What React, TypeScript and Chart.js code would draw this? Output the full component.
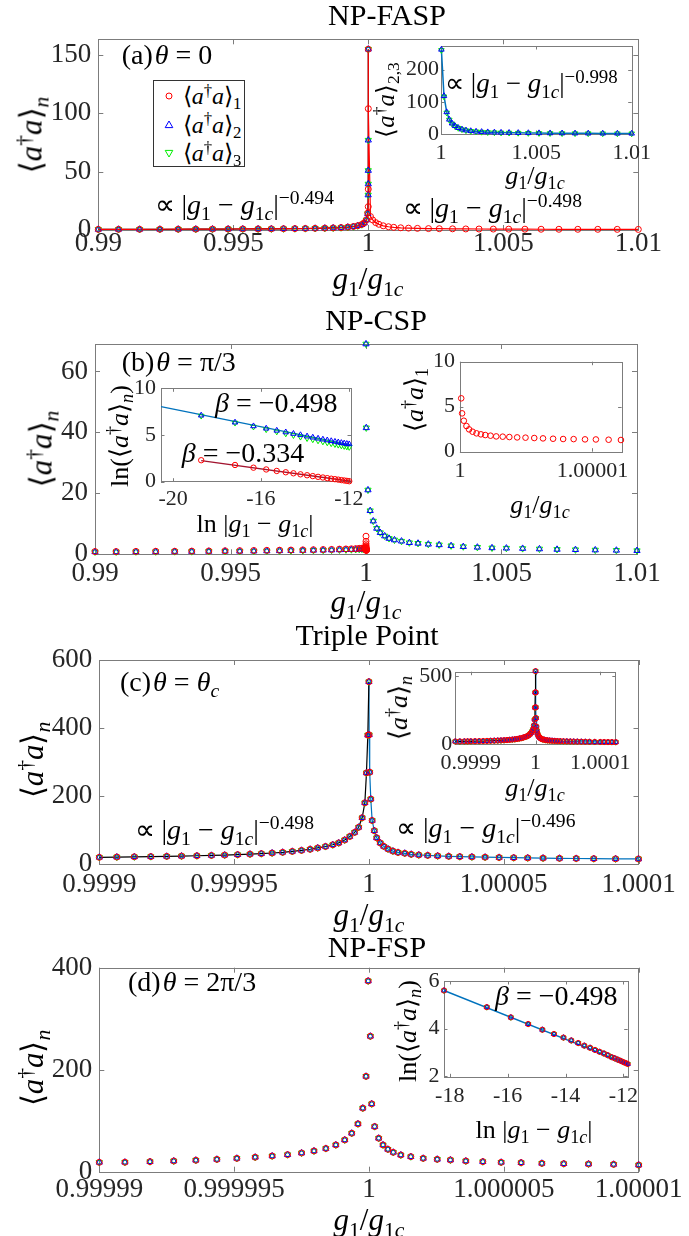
import React, { useEffect, useMemo, useRef } from 'react';
import { Chart, registerables } from 'chart.js';
Chart.register(...registerables);

// ================= DATA =================
// Panel (a) NP-FASP, theta = 0 — x offsets from g1c in units of 1e-3
const aLeftOffsetsE3 = [-10, -9.25, -8.47, -7.72, -7.04, -6.39, -5.77, -5.19, -4.65, -4.08, -3.59, -3.14, -2.72, -2.33, -1.97, -1.61, -1.3, -1.01, -0.76, -0.55, -0.39, -0.24, -0.15, -0.07, -0.02];
const aRedLeft = [0.55, 0.6, 0.6, 0.65, 0.7, 0.75, 0.8, 0.85, 0.9, 0.95, 1.0, 1.1, 1.2, 1.3, 1.45, 1.6, 1.8, 2.1, 2.5, 3.0, 3.7, 4.8, 6.2, 8.8, 14.5];
const aTriLeft = [0.5, 0.55, 0.55, 0.6, 0.65, 0.7, 0.75, 0.8, 0.85, 0.9, 0.95, 1.05, 1.15, 1.25, 1.4, 1.55, 1.75, 2.0, 2.4, 2.9, 3.6, 4.6, 6.0, 8.5, 14.0];
const aRedPeakOffsetsE3 = [-0.002, -0.0002, 0, 0.00002];
const aRedPeak = [20, 35, 155, 104];
const aTriPeakOffsetsE3 = [-0.005, -0.002, -0.001, -0.0003, 0];
const aTriPeak = [30, 39.4, 51, 77, 155];
const aRightOffsetsE3 = [0.081, 0.163, 0.276, 0.39, 0.553, 0.748, 0.943, 1.2, 1.49, 1.82, 2.23, 2.63, 3.12, 3.61, 4.1, 4.63, 5.2, 5.8, 6.4, 7.06, 7.76, 8.5, 9.22, 10];
const aRedRight = [11.5, 8.6, 6.3, 4.9, 3.6, 2.8, 2.3, 1.9, 1.6, 1.4, 1.2, 1.1, 1.0, 0.9, 0.85, 0.8, 0.75, 0.7, 0.65, 0.62, 0.6, 0.58, 0.55, 0.5];
// inset (a): <a†a>_{2,3} for g1 > g1c
const aInOffsetsE3 = [0.02, 0.157, 0.299, 0.435, 0.577, 0.734, 0.907, 1.1, 1.31, 1.56, 1.84, 2.13, 2.45, 2.8, 3.15, 3.57, 4.05, 4.58, 5.14, 5.72, 6.35, 7.03, 7.72, 8.48, 9.25, 10.0];
const aInBlue = [262, 118, 68, 45, 33, 25, 19, 14.5, 11.5, 9.4, 7.8, 6.7, 5.8, 5.1, 4.5, 4.0, 3.6, 3.2, 2.9, 2.6, 2.4, 2.2, 2.0, 1.85, 1.7, 1.6];
const aInGreen = [260, 116, 66, 44, 32, 24, 18.5, 14, 11, 9, 7.4, 6.3, 5.4, 4.7, 4.1, 3.6, 3.2, 2.8, 2.5, 2.2, 2.0, 1.8, 1.65, 1.5, 1.4, 1.3];

// Panel (b) NP-CSP, theta = pi/3 — offsets in 1e-3
const bLeftOffsetsE3 = [-10, -9.22, -8.49, -7.76, -7.06, -6.43, -5.8, -5.2, -4.66, -4.14, -3.66, -3.19, -2.77, -2.33, -1.94, -1.58, -1.27, -0.98, -0.74, -0.54, -0.38, -0.25, -0.15, -0.09, -0.04];
const bRedLeft = [0.9, 0.9, 0.95, 1.0, 1.0, 1.05, 1.1, 1.15, 1.2, 1.25, 1.3, 1.35, 1.4, 1.45, 1.5, 1.55, 1.6, 1.7, 1.75, 1.8, 1.85, 1.95, 2.0, 2.05, 2.1];
const bStarLeft = [0.8, 0.8, 0.85, 0.85, 0.9, 0.9, 0.95, 1.0, 1.0, 1.05, 1.1, 1.15, 1.2, 1.25, 1.3, 1.35, 1.4, 1.45, 1.5, 1.55, 1.6, 1.65, 1.7, 1.75, 1.8];
const bRightOffsetsE3 = [0.00001, 0.01, 0.073, 0.154, 0.268, 0.397, 0.527, 0.69, 0.85, 1.05, 1.31, 1.6, 1.92, 2.3, 2.7, 3.14, 3.59, 4.11, 4.65, 5.18, 5.78, 6.4, 7.05, 7.73, 8.46, 9.24, 10];
const bStarRight = [69, 41.5, 21.1, 14.3, 10.9, 8.5, 7.1, 6.0, 5.2, 4.7, 4.3, 3.8, 3.6, 3.3, 3.1, 2.8, 2.5, 2.3, 2.1, 2.0, 1.9, 1.75, 1.6, 1.5, 1.4, 1.3, 1.2];
// red, g1 > g1c, offsets in 1e-6 (right inset)
const bRedRightOffsetsE6 = [0.099, 0.165, 0.297, 0.495, 0.693, 0.957, 1.254, 1.584, 1.914, 2.31, 2.74, 3.23, 3.73, 4.32, 4.95, 5.61, 6.27, 7.03, 7.79, 8.58, 9.44, 10.26, 11.22, 12.15];
const bRedRight = [5.93, 4.26, 3.44, 2.85, 2.48, 2.22, 2.04, 1.93, 1.85, 1.78, 1.7, 1.67, 1.63, 1.59, 1.56, 1.52, 1.48, 1.44, 1.41, 1.4, 1.37, 1.36, 1.33, 1.3];
// left inset: ln|g1-g1c| vs ln<a†a>
const bLnX = [-18.72, -17.18, -16.34, -15.76, -15.28, -14.87, -14.52, -14.2, -13.9, -13.64, -13.4, -13.18, -12.98, -12.8, -12.63, -12.48, -12.34, -12.21, -12.09, -11.98];
const bLnBlue = [7.1, 6.35, 5.95, 5.7, 5.48, 5.3, 5.14, 5.0, 4.86, 4.74, 4.63, 4.53, 4.44, 4.36, 4.29, 4.22, 4.16, 4.11, 4.06, 4.02];
const bLnGreen = [7.05, 6.3, 5.88, 5.6, 5.36, 5.15, 4.97, 4.8, 4.65, 4.52, 4.4, 4.29, 4.19, 4.1, 4.01, 3.94, 3.87, 3.81, 3.75, 3.7];
const bLnRed = [2.3, 1.79, 1.5, 1.31, 1.15, 1.01, 0.9, 0.79, 0.69, 0.6, 0.52, 0.45, 0.38, 0.32, 0.27, 0.22, 0.17, 0.13, 0.09, 0.05];
const bFitBlueX = [-20.55, -11.9];
const bFitBlueY = [8.05, 3.95];
const bFitRedX = [-18.72, -11.9];
const bFitRedY = [2.25, 0.05];

// Panel (c) Triple point — offsets in 1e-5 (all three series overlap)
const cLeftOffsetsE5 = [-10, -9.35, -8.7, -8.09, -7.5, -6.95, -6.38, -5.84, -5.35, -4.87, -4.41, -3.99, -3.59, -3.2, -2.84, -2.5, -2.18, -1.9, -1.61, -1.34, -1.12, -0.9, -0.71, -0.53, -0.38, -0.25, -0.15, -0.09, -0.04, 0];
const cLeft = [19.7, 20.5, 21.2, 21.8, 22.5, 23.3, 24.2, 25.2, 26.3, 27.5, 29, 30.5, 32.3, 34.4, 37, 40, 43.3, 47.2, 51.5, 56.5, 62, 70.5, 81, 93, 108, 136, 180, 268, 379, 536];
const cRightOffsetsE5 = [0.01, 0.03, 0.07, 0.12, 0.2, 0.29, 0.42, 0.55, 0.71, 0.89, 1.08, 1.33, 1.57, 1.85, 2.18, 2.55, 2.96, 3.37, 3.82, 4.31, 4.83, 5.37, 5.89, 6.46, 7.07, 7.69, 8.34, 9.15, 10.0];
const cRight = [380, 270, 191, 128, 98, 77, 62, 52, 44, 38, 34, 31.5, 28.5, 26.6, 25.3, 23.8, 22.6, 21.6, 20.8, 20, 19.2, 18.5, 17.9, 17.3, 16.7, 16.2, 15.7, 15.2, 14.8];
const cEdgeLeftOffsetsE5 = [-12.4, -11.7, -11.0, -10.5];
const cEdgeLeft = [18.6, 18.9, 19.2, 19.5];
const cEdgeRightOffsetsE5 = [10.6, 11.2, 11.8, 12.4];
const cEdgeRight = [14.5, 14.2, 14.0, 13.7];

// Panel (d) NP-FSP, theta = 2pi/3 — offsets in 1e-6
const dLeftOffsetsE6 = [-10, -9.05, -8.12, -7.24, -6.42, -5.64, -4.9, -4.22, -3.59, -3.02, -2.5, -2.04, -1.6, -1.23, -0.9, -0.64, -0.41, -0.23, -0.11, -0.03];
const dLeft = [18.4, 18.6, 19.7, 21.0, 22.5, 24.2, 26.2, 28.4, 30.8, 33.4, 36.7, 40.7, 45.5, 52.5, 62.3, 75.4, 93.8, 124.6, 187, 374];
const dRightOffsetsE6 = [0.05, 0.1, 0.21, 0.36, 0.52, 0.7, 0.9, 1.18, 1.55, 2.01, 2.53, 3.02, 3.59, 4.22, 4.9, 5.64, 6.41, 7.22, 8.14, 9.07, 10.0];
const dRight = [265.6, 133, 88.5, 65.6, 52.5, 43.9, 38, 32.8, 29.5, 26.2, 24.3, 23, 21, 19.7, 18.4, 17.7, 16.4, 15.7, 15.1, 14.4, 13.1];
const dLnX = [-18.2, -16.72, -15.89, -15.29, -14.8, -14.4, -14.07, -13.8, -13.56, -13.35, -13.15, -12.98, -12.82, -12.67, -12.54, -12.41, -12.3, -12.19, -12.09, -12.0, -11.92, -11.85];
const dLnY = [5.6, 4.9, 4.47, 4.19, 3.95, 3.77, 3.62, 3.5, 3.39, 3.28, 3.19, 3.1, 3.02, 2.95, 2.88, 2.8, 2.75, 2.69, 2.64, 2.59, 2.55, 2.51];
const dFitX = [-18.2, -11.85];
const dFitY = [5.6, 2.5];

// Tick values and labels
const xTicksA = [0.99, 0.995, 1, 1.005, 1.01];
const xLabelsA = ['0.99', '0.995', '1', '1.005', '1.01'];
const yTicksA = [0, 50, 100, 150];
const yLabelsA = ['0', '50', '100', '150'];
const xTicksAIn = [1, 1.005, 1.01];
const xLabelsAIn = ['1', '1.005', '1.01'];
const yTicksAIn = [0, 100, 200];
const yLabelsAIn = ['0', '100', '200'];
const yTicksB = [0, 20, 40, 60];
const yLabelsB = ['0', '20', '40', '60'];
const xTicksBLn = [-20, -16, -12];
const xLabelsBLn = ['-20', '-16', '-12'];
const yTicks010 = [0, 5, 10];
const yLabels010 = ['0', '5', '10'];
const xTicksBR = [1, 1.00001];
const xLabelsBR = ['1', '1.00001'];
const xTicksC = [0.9999, 0.99995, 1, 1.00005, 1.0001];
const xLabelsC = ['0.9999', '0.99995', '1', '1.00005', '1.0001'];
const yTicksC = [0, 200, 400, 600];
const yLabelsC = ['0', '200', '400', '600'];
const xTicksCIn = [0.9999, 1, 1.0001];
const xLabelsCIn = ['0.9999', '1', '1.0001'];
const yTicksCIn = [0, 500];
const yLabelsCIn = ['0', '500'];
const xTicksD = [0.99999, 0.999995, 1, 1.000005, 1.00001];
const xLabelsD = ['0.99999', '0.999995', '1', '1.000005', '1.00001'];
const yTicksD = [0, 200, 400];
const yLabelsD = ['0', '200', '400'];
const xTicksDLn = [-18, -16, -14, -12];
const xLabelsDLn = ['-18', '-16', '-14', '-12'];
const yTicksDLn = [2, 4, 6];
const yLabelsDLn = ['2', '4', '6'];

// ================= HELPERS =================
const FONT = "'Liberation Serif', 'Times New Roman', serif";
const TICK_COLOR = '#262626';
const RED = '#ff0000';
const BLUE = '#0000ff';
const GREEN = '#00ee00';
const FIT_BLUE = '#0072bd';
const FIT_RED = '#a2142f';

type Pt = { x: number; y: number };
const near1 = (offs: number[], vals: number[], unit: number): Pt[] => offs.map((o, i) => ({ x: 1 + o * unit, y: vals[i] }));
const xy = (xs: number[], ys: number[]): Pt[] => xs.map((x, i) => ({ x, y: ys[i] }));

function mk(data: Pt[], kind: 'r' | 'b' | 'g', r = 3) {
  const base: any = {
    data, showLine: false, clip: false,
    backgroundColor: 'rgba(0,0,0,0)', pointBackgroundColor: 'rgba(0,0,0,0)',
    pointBorderWidth: 1, pointHoverRadius: r,
  };
  if (kind === 'r') return { ...base, pointStyle: 'circle', pointRadius: r, pointBorderColor: RED, borderColor: RED };
  if (kind === 'b') return { ...base, pointStyle: 'triangle', pointRadius: r + 0.6, pointBorderColor: BLUE, borderColor: BLUE };
  return { ...base, pointStyle: 'triangle', pointRotation: 180, pointRadius: r + 0.6, pointBorderColor: GREEN, borderColor: GREEN };
}
function ln(data: Pt[], color: string, w = 1.2) {
  return { data, showLine: true, pointRadius: 0, pointHoverRadius: 0, borderColor: color, borderWidth: w, fill: false, tension: 0, clip: false };
}

type Box = { L: number; T: number; R: number; B: number };
type Rect = { x: number; y: number; w: number; h: number };
type AxisSpec = { min: number; max: number; ticks: number[]; labels: string[]; size: number; pad: number };
type PlotSpec = { id: string; rect: Rect; box: Box; x: AxisSpec; y: AxisSpec; tickLen: number; bg: boolean; datasets: any[] };

const framePlugin = {
  id: 'frame',
  beforeDraw(chart: any, _a: any, opts: any) {
    if (!opts.bg) return;
    const { ctx, chartArea: c } = chart;
    ctx.save();
    ctx.fillStyle = '#ffffff';
    ctx.fillRect(c.left, c.top, c.right - c.left, c.bottom - c.top);
    ctx.restore();
  },
  beforeDatasetsDraw(chart: any, _a: any, opts: any) {
    const { ctx, chartArea: c, scales } = chart;
    const len = opts.len;
    ctx.save();
    ctx.strokeStyle = '#7c7c7c';
    ctx.lineWidth = 1;
    ctx.beginPath();
    scales.x.ticks.forEach((t: any) => {
      const px = Math.round(scales.x.getPixelForValue(t.value)) + 0.5;
      ctx.moveTo(px, c.bottom); ctx.lineTo(px, c.bottom - len);
      ctx.moveTo(px, c.top); ctx.lineTo(px, c.top + len);
    });
    scales.y.ticks.forEach((t: any) => {
      const py = Math.round(scales.y.getPixelForValue(t.value)) + 0.5;
      ctx.moveTo(c.left, py); ctx.lineTo(c.left + len, py);
      ctx.moveTo(c.right, py); ctx.lineTo(c.right - len, py);
    });
    ctx.stroke();
    ctx.strokeRect(Math.round(c.left) + 0.5, Math.round(c.top) + 0.5, Math.round(c.right - c.left), Math.round(c.bottom - c.top));
    ctx.restore();
  },
};

function makeChart(canvas: HTMLCanvasElement, s: PlotSpec) {
  const m = { l: s.box.L - s.rect.x, t: s.box.T - s.rect.y, r: s.rect.x + s.rect.w - s.box.R, b: s.rect.y + s.rect.h - s.box.B };
  const axis = (a: AxisSpec, isX: boolean) => ({
    type: 'linear', min: a.min, max: a.max,
    grid: { display: false, drawTicks: false }, border: { display: false },
    ticks: {
      autoSkip: false, maxRotation: 0, minRotation: 0, padding: a.pad, color: TICK_COLOR,
      font: { family: FONT, size: a.size, lineHeight: 1 },
      callback: (_v: any, i: number) => a.labels[i] ?? '',
    },
    afterBuildTicks: (sc: any) => { sc.ticks = a.ticks.map((v) => ({ value: v })); },
    afterFit: (sc: any) => { if (isX) sc.height = m.b; else sc.width = m.l; },
  });
  return new Chart(canvas, {
    type: 'scatter',
    data: { datasets: s.datasets },
    options: {
      animation: false, responsive: false, events: [],
      layout: { padding: { left: 0, top: m.t, right: m.r, bottom: 0 } },
      plugins: { legend: { display: false }, tooltip: { enabled: false }, frame: { bg: s.bg, len: s.tickLen } } as any,
      scales: { x: axis(s.x, true) as any, y: axis(s.y, false) as any },
    },
    plugins: [framePlugin as any],
  });
}

function buildSpecs(): PlotSpec[] {
  const redA = [...near1(aLeftOffsetsE3, aRedLeft, 1e-3), ...near1(aRedPeakOffsetsE3, aRedPeak, 1e-3), ...near1(aRightOffsetsE3, aRedRight, 1e-3)];
  const triA = [...near1(aLeftOffsetsE3, aTriLeft, 1e-3), ...near1(aTriPeakOffsetsE3, aTriPeak, 1e-3)];
  const aIn2 = near1(aInOffsetsE3, aInBlue, 1e-3);
  const aIn3 = near1(aInOffsetsE3, aInGreen, 1e-3);

  const bRed = [...near1(bLeftOffsetsE3, bRedLeft, 1e-3), ...near1(bRedRightOffsetsE6, bRedRight, 1e-6)];
  const bStar = [...near1(bLeftOffsetsE3, bStarLeft, 1e-3), ...near1(bRightOffsetsE3, bStarRight, 1e-3)];
  const bRedIn = near1(bRedRightOffsetsE6, bRedRight, 1e-6);

  const cL = near1(cLeftOffsetsE5, cLeft, 1e-5);
  const cR = near1(cRightOffsetsE5, cRight, 1e-5);
  const cAll = [...cL, ...cR];
  const cInAll = [...near1(cEdgeLeftOffsetsE5, cEdgeLeft, 1e-5), ...cL, ...cR, ...near1(cEdgeRightOffsetsE5, cEdgeRight, 1e-5)];
  const cInL = [...near1(cEdgeLeftOffsetsE5, cEdgeLeft, 1e-5), ...cL];
  const cInR = [cL[cL.length - 1], ...cR, ...near1(cEdgeRightOffsetsE5, cEdgeRight, 1e-5)];

  const dAll = [...near1(dLeftOffsetsE6, dLeft, 1e-6), ...near1(dRightOffsetsE6, dRight, 1e-6)];
  const dLn = xy(dLnX, dLnY);

  const main = (min: number, max: number, ticks: number[], labels: string[], pad: number): AxisSpec => ({ min, max, ticks, labels, size: 27, pad });
  const ins = (min: number, max: number, ticks: number[], labels: string[], pad: number): AxisSpec => ({ min, max, ticks, labels, size: 22, pad });

  return [
    {
      id: 'a', rect: { x: 0, y: 0, w: 689, h: 300 }, box: { L: 98.3, T: 39.3, R: 638.3, B: 230 },
      x: main(0.99, 1.01, xTicksA, xLabelsA, 0), y: main(0, 163.5, yTicksA, yLabelsA, 7), tickLen: 5, bg: false,
      datasets: [mk(redA, 'r'), mk(triA, 'b'), mk(triA, 'g'), ln(redA, RED), ln(triA, '#000000')],
    },
    {
      id: 'b', rect: { x: 0, y: 300, w: 689, h: 310 }, box: { L: 95, T: 344, R: 637, B: 554.3 },
      x: main(0.99, 1.01, xTicksA, xLabelsA, 6), y: main(0, 69, yTicksB, yLabelsB, 7), tickLen: 5, bg: false,
      datasets: [mk(bRed, 'r'), mk(bStar, 'b'), mk(bStar, 'g')],
    },
    {
      id: 'c', rect: { x: 0, y: 610, w: 689, h: 310 }, box: { L: 99.3, T: 660, R: 638.5, B: 864 },
      x: main(0.9999, 1.0001, xTicksC, xLabelsC, 7.5), y: main(0, 600, yTicksC, yLabelsC, 7), tickLen: 5, bg: false,
      datasets: [mk(cAll, 'r'), mk(cAll, 'b'), mk(cAll, 'g'), ln(cL, '#000000'), ln([cL[cL.length - 1], ...cR], FIT_BLUE)],
    },
    {
      id: 'd', rect: { x: 0, y: 920, w: 689, h: 316 }, box: { L: 99.3, T: 967.7, R: 638.7, B: 1171.7 },
      x: main(0.99999, 1.00001, xTicksD, xLabelsD, 5), y: main(0, 400, yTicksD, yLabelsD, 7), tickLen: 5, bg: false,
      datasets: [mk(dAll, 'r'), mk(dAll, 'b'), mk(dAll, 'g')],
    },
    {
      id: 'aIn', rect: { x: 395, y: 28, w: 270, h: 150 }, box: { L: 441, T: 46, R: 631.7, B: 134 },
      x: ins(1, 1.01, xTicksAIn, xLabelsAIn, 8), y: ins(0, 273, yTicksAIn, yLabelsAIn, 2), tickLen: 3.5, bg: true,
      datasets: [mk(aIn2, 'b', 2.6), mk(aIn3, 'g', 2.6), ln(aIn2, FIT_BLUE, 1.5)],
    },
    {
      id: 'bLn', rect: { x: 115, y: 372, w: 270, h: 145 }, box: { L: 161, T: 388.3, R: 351, B: 481.7 },
      x: ins(-20.55, -11.9, xTicksBLn, xLabelsBLn, 7), y: ins(0, 10, yTicks010, yLabels010, 5), tickLen: 3.5, bg: true,
      datasets: [mk(xy(bLnX, bLnRed), 'r', 2.7), mk(xy(bLnX, bLnBlue), 'b', 2.6), mk(xy(bLnX, bLnGreen), 'g', 2.6),
        ln(xy(bFitBlueX, bFitBlueY), FIT_BLUE, 1.3), ln(xy(bFitRedX, bFitRedY), FIT_RED, 1.3)],
    },
    {
      id: 'bR', rect: { x: 420, y: 345, w: 250, h: 145 }, box: { L: 459.9, T: 361.7, R: 621.6, B: 451.7 },
      x: ins(1, 1.0000122, xTicksBR, xLabelsBR, 9), y: ins(0, 10, yTicks010, yLabels010, 5), tickLen: 3.5, bg: true,
      datasets: [mk(bRedIn, 'r', 2.8)],
    },
    {
      id: 'cIn', rect: { x: 405, y: 655, w: 260, h: 125 }, box: { L: 455.3, T: 671.7, R: 615.8, B: 744 },
      x: ins(0.999876, 1.000124, xTicksCIn, xLabelsCIn, 8), y: ins(0, 532, yTicksCIn, yLabelsCIn, 3), tickLen: 3.5, bg: true,
      datasets: [mk(cInAll, 'r', 2.6), mk(cInAll, 'b', 2.4), mk(cInAll, 'g', 2.4), ln(cInL, '#000000'), ln(cInR, FIT_BLUE)],
    },
    {
      id: 'dIn', rect: { x: 410, y: 965, w: 250, h: 150 }, box: { L: 444, T: 981, R: 627.7, B: 1077.3 },
      x: ins(-18.2, -11.85, xTicksDLn, xLabelsDLn, 8.4), y: ins(1.95, 6, yTicksDLn, yLabelsDLn, 4.5), tickLen: 3.5, bg: true,
      datasets: [mk(dLn, 'r', 2.6), mk(dLn, 'b', 2.4), mk(dLn, 'g', 2.4), ln(xy(dFitX, dFitY), FIT_BLUE, 1.4)],
    },
  ];
}

// ================= TEXT OVERLAYS =================
const Sub = ({ children }: { children: React.ReactNode }) => (
  <span style={{ fontSize: '0.7em', position: 'relative', top: '0.3em' }}>{children}</span>
);
const Sup = ({ children }: { children: React.ReactNode }) => (
  <span style={{ fontSize: '0.7em', position: 'relative', top: '-0.5em' }}>{children}</span>
);
const G1 = () => <><i>g</i><Sub>1</Sub></>;
const G1c = () => <><i>g</i><Sub>1<i>c</i></Sub></>;
const AA = () => <>⟨<i>a</i><Sup>†</Sup><i>a</i>⟩</>;
const Ratio = () => <><G1 />/<G1c /></>;
const Power = ({ e }: { e: string }) => <>∝ |<G1 /> − <G1c />|<Sup>{e}</Sup></>;
const LnAbs = () => <>ln |<G1 /> − <G1c />|</>;
const LnAA = () => <>ln(<AA /><Sub><i>n</i></Sub>)</>;

function T({ x, y, s, rot, left, children }: { x: number; y: number; s: number; rot?: boolean; left?: boolean; children: React.ReactNode }) {
  const transform = rot ? 'translate(-50%,-50%) rotate(-90deg)' : left ? 'translate(0,-50%)' : 'translate(-50%,-50%)';
  return (
    <div style={{ position: 'absolute', left: x, top: y, transform, whiteSpace: 'nowrap', lineHeight: 1, fontFamily: FONT, fontSize: s, color: '#000' }}>
      {children}
    </div>
  );
}

function Legend() {
  const row = (cy: number, sym: React.ReactNode, k: string) => (
    <div style={{ position: 'absolute', left: 0, top: cy - 80 - 12, height: 24, width: '100%' }}>
      <svg width={12} height={12} style={{ position: 'absolute', left: 9, top: 6 }}>{sym}</svg>
      <div style={{ position: 'absolute', left: 29, top: 0, lineHeight: 1, fontFamily: FONT, fontSize: 24, whiteSpace: 'nowrap' }}>
        <AA /><Sub>{k}</Sub>
      </div>
    </div>
  );
  return (
    <div style={{ position: 'absolute', left: 152.7, top: 80, width: 92.3, height: 86.7, border: '1px solid #333', background: '#fff', boxSizing: 'border-box' }}>
      {row(95, <circle cx={6} cy={6} r={3} stroke={RED} fill="none" strokeWidth={1} />, '1')}
      {row(123.5, <polygon points="6,2 9.8,8.6 2.2,8.6" stroke={BLUE} fill="none" strokeWidth={1} />, '2')}
      {row(152, <polygon points="6,10 9.8,3.4 2.2,3.4" stroke={GREEN} fill="none" strokeWidth={1} />, '3')}
    </div>
  );
}

function Overlays() {
  return (
    <>
      <T x={387} y={15} s={30}>NP-FASP</T>
      <T x={376} y={320} s={30}>NP-CSP</T>
      <T x={367} y={635} s={30}>Triple Point</T>
      <T x={377} y={947} s={30}>NP-FSP</T>

      <T x={31} y={135} s={31} rot><AA /><Sub><i>n</i></Sub></T>
      <T x={41} y={449} s={31} rot><AA /><Sub><i>n</i></Sub></T>
      <T x={32} y={760} s={31} rot><AA /><Sub><i>n</i></Sub></T>
      <T x={32} y={1068} s={31} rot><AA /><Sub><i>n</i></Sub></T>

      <T x={368} y={278} s={31}><Ratio /></T>
      <T x={366} y={601} s={31}><Ratio /></T>
      <T x={369} y={914} s={31}><Ratio /></T>
      <T x={369} y={1219} s={31}><Ratio /></T>

      <T x={121.7} y={55} s={28} left>(a)<i style={{ marginLeft: 2 }}>θ</i> = 0</T>
      <T x={121.7} y={361.7} s={28} left>(b)<i style={{ marginLeft: 2 }}>θ</i> = π/3</T>
      <T x={120} y={681.7} s={28} left>(c)<i style={{ marginLeft: 2 }}>θ</i> = <i>θ</i><Sub><i>c</i></Sub></T>
      <T x={128} y={981.7} s={28} left>(d)<i style={{ marginLeft: 2 }}>θ</i> = 2π/3</T>

      <T x={154.5} y={205} s={28} left><Power e="−0.494" /></T>
      <T x={402.5} y={208} s={28} left><Power e="−0.498" /></T>
      <T x={445} y={83} s={27} left><Power e="−0.998" /></T>
      <T x={134.5} y={830} s={28} left><Power e="−0.498" /></T>
      <T x={396} y={828} s={28} left><Power e="−0.496" /></T>

      <T x={215} y={403} s={28} left><i>β</i> = −0.498</T>
      <T x={181.7} y={453} s={28} left><i>β</i> = −0.334</T>
      <T x={495} y={996} s={28} left><i>β</i> = −0.498</T>

      <T x={385} y={100} s={25} rot><AA /><Sub>2,3</Sub></T>
      <T x={535} y={176} s={26}><Ratio /></T>
      <T x={120} y={436} s={26} rot><LnAA /></T>
      <T x={255} y={524} s={26}><LnAbs /></T>
      <T x={415} y={400} s={26} rot><AA /><Sub>1</Sub></T>
      <T x={540} y={505} s={26}><Ratio /></T>
      <T x={399} y={708} s={26} rot><AA /><Sub><i>n</i></Sub></T>
      <T x={535} y={788} s={26}><Ratio /></T>
      <T x={408} y={1031} s={26} rot><LnAA /></T>
      <T x={534} y={1130} s={26}><LnAbs /></T>

      <Legend />
    </>
  );
}

export default function App() {
  const refs = useRef<(HTMLCanvasElement | null)[]>([]);
  const specs = useMemo(buildSpecs, []);
  useEffect(() => {
    const charts = specs.map((s, i) => makeChart(refs.current[i] as HTMLCanvasElement, s));
    return () => charts.forEach((c) => c.destroy());
  }, [specs]);
  return (
    <div style={{ position: 'absolute', left: 0, top: 0, width: 689, height: 1236, background: '#fff', overflow: 'hidden' }}>
      {specs.map((s, i) => (
        <canvas
          key={s.id}
          ref={(el) => { refs.current[i] = el; }}
          width={s.rect.w}
          height={s.rect.h}
          style={{ position: 'absolute', left: s.rect.x, top: s.rect.y, width: s.rect.w, height: s.rect.h }}
        />
      ))}
      <Overlays />
    </div>
  );
}
